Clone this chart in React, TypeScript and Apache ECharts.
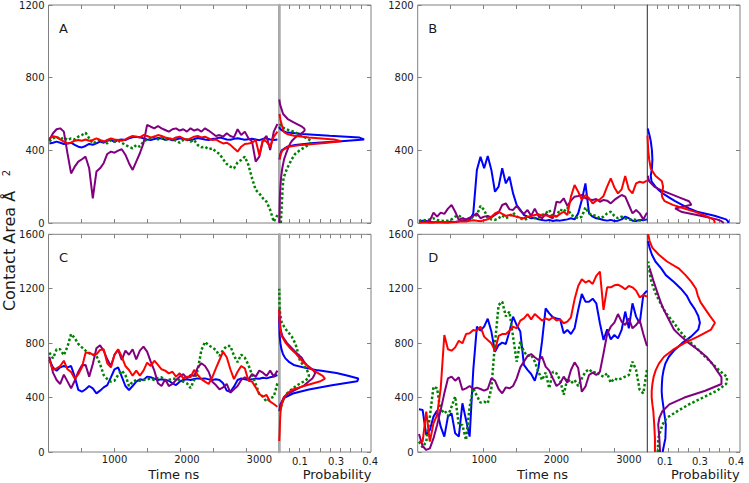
import React, { useEffect, useRef } from "react";
import * as echarts from "echarts";

// ---------- data ----------
const TIME = [
  100, 150, 200, 250, 300, 350, 400, 450,
  500, 550, 600, 650, 700, 750, 800, 850,
  900, 950, 1000, 1050, 1100, 1150, 1200, 1250,
  1300, 1350, 1400, 1450, 1500, 1550, 1600, 1650,
  1700, 1750, 1800, 1850, 1900, 1950, 2000, 2050,
  2100, 2150, 2200, 2250, 2300, 2350, 2400, 2450,
  2500, 2550, 2600, 2650, 2700, 2750, 2800, 2850,
  2900, 2950, 3000, 3050, 3100, 3150, 3200, 3250,
];
const TIME_TICK_LABELS = [1000, 2000, 3000];
const PROB_TICK_LABELS = ["0.1", "0.3", "0.4"];

// Panel A
const A_BLUE = [438,442,448,442,435,438,442,430, 420,416,424,435,431,438,448,442, 453,457,446,457,460,457,466,472, 475,472,466,460,457,462,468,465, 458,462,455,460,466,463,458,455, 462,468,464,460,457,462,465,470, 466,460,458,463,467,462,458,461, 464,460,456,462,466,460,457,460];
const A_RED = [466,477,473,460,448,438,442,453, 457,453,460,453,457,466,457,448, 457,466,460,457,453,460,471,479, 475,471,484,479,471,475,484,479, 471,466,460,471,475,466,457,466, 475,479,471,475,466,457,460,448, 438,442,430,411,393,420,435,438, 442,457,374,457,448,420,475,503];
const A_PURPLE = [457,494,516,521,503,384,273,310, 338,351,365,301,136,283,301,329, 380,393,387,398,406,376,329,292, 338,384,438,540,530,521,534,521, 512,503,516,521,509,516,503,521, 509,516,503,521,509,494,479,484, 475,494,479,471,516,484,503,466, 448,338,365,457,479,402,503,545];
const A_GREEN = [448,466,475,460,471,457,466,460, 475,484,497,466,438,448,460,448, 438,457,448,453,442,429,420,411, 429,420,448,460,466,475,460,471, 457,466,460,453,442,457,460,448, 457,429,417,420,406,411,393,380, 351,325,310,301,334,347,365,319, 246,182,163,136,117,72,7,44];

// Panel B
const B_BLUE = [7,13,11,5,4,4,5,4, 5,7,5,9,13,11,17,53, 292,365,301,369,292,172,200,301, 218,255,163,99,72,44,35,26, 29,20,17,13,17,11,15,13, 17,20,26,20,53,127,218,53, 35,26,22,17,13,17,11,13, 20,35,26,13,11,17,15,20];
const B_RED = [4,3,3,2,3,5,4,3, 2,4,6,8,10,8,12,15, 12,10,15,20,35,53,62,50, 39,44,40,35,29,26,35,39, 44,48,40,42,39,40,35,50, 62,44,145,209,172,127,154,136, 108,123,130,149,200,246,196,163, 185,259,185,163,218,227,222,233];
const B_PURPLE = [5,5,7,13,57,35,57,50, 79,99,62,17,26,20,29,39, 53,26,35,39,31,44,57,99, 108,75,72,94,68,50,72,39, 79,39,26,50,35,26,117,112, 136,94,123,145,149,154,136,130, 127,132,117,127,123,108,127,141, 154,145,99,53,72,53,20,57];
const B_GREEN = [11,17,13,20,26,17,13,11, 13,20,35,42,26,17,20,35, 44,94,72,26,20,17,26,42, 26,35,57,35,26,17,26,35, 26,29,44,53,72,35,39,75, 62,86,44,35,26,35,86,53, 44,39,26,35,53,62,39,26, 35,26,17,20,17,13,20,26];

// Panel C
const C_BLUE = [676,622,598,622,632,622,632,554, 456,443,461,485,468,431,451,475, 492,549,608,622,554,485,456,485, 517,534,529,554,549,539,529,534, 529,524,505,492,517,529,534,529, 536,541,539,541,534,529,534,529, 505,451,443,480,529,541,534,529, 534,541,539,546,541,549,554,566];
const C_RED = [676,603,615,632,671,608,588,541, 571,622,730,730,715,718,750,755, 652,622,715,755,701,632,603,561, 598,561,598,657,632,671,640,608, 598,578,590,554,578,541,554,549, 603,566,536,517,500,549,615,676, 737,696,608,536,590,632,615,524, 517,475,426,407,419,370,353,333];
const C_PURPLE = [700,583,529,500,568,519,468,524, 590,637,640,554,647,762,784,745, 681,632,715,750,676,745,715,755, 681,745,774,738,664,598,505,485, 534,485,500,529,554,573,541,566, 559,622,652,632,590,517,492,461, 475,500,436,461,485,529,549,534, 573,554,598,583,559,598,554,598];
const C_GREEN = [730,688,755,755,711,774,867,838, 794,769,745,725,716,708,647,566, 536,517,524,566,598,566,485,517, 529,524,529,534,541,529,544,549, 524,529,539,539,529,517,505,470, 529,603,750,809,784,769,750,706, 750,779,779,708,660,716,693,640, 566,500,426,407,370,394,407,505];

// Panel D
const D_BLUE = [314,309,125,162,260,304,186,113, 260,284,137,113,358,235,113,603, 921,892,921,980,885,737,786,804, 794,885,995,933,885,640,603,573, 524,615,811,1056,1019,990,982,975, 872,897,867,909,1044,1161,1105,1105, 1127,1093,946,823,902,828,860,835, 897,1032,909,1093,995,946,1154,1186];
const D_RED = [76,76,296,76,211,272,468,860, 755,745,769,818,799,867,872,897, 892,921,848,823,799,745,853,867, 867,892,921,909,966,982,1014,975, 1014,990,966,982,970,990,966,975, 946,958,990,1122,1220,1269,1245,1259, 1235,1294,1325,1044,1210,1210,1225,1230, 1215,1196,1220,1210,1186,1137,1154,1142];
const D_PURPLE = [132,44,15,27,100,198,309,431, 541,554,524,549,456,468,485,463, 473,463,451,463,541,524,463,431, 475,468,485,541,622,664,706,720, 696,676,701,627,598,541,485,505, 554,510,603,659,617,443,480,566, 583,566,590,725,867,921,951,1014, 958,933,982,909,933,970,867,779];
const D_GREEN = [76,34,76,260,480,468,289,309, 265,333,407,198,198,88,333,468, 412,363,370,358,468,799,1080,1105, 997,1031,848,664,811,737,706,713, 664,590,529,583,468,590,578,529, 421,541,505,529,485,541,590,608, 583,590,566,554,578,510,541,529, 541,554,566,664,603,456,431,603];

// Probability densities (contact area grid + density per run)
const DA_Y = [0,50,100,150,200,250,300,350,380,400,420,430,440,450,460,470,480,490,500,510,520,530,550,570,600,650,680];
const DA_BLUE = [null,null,null,null,null,null,null,0.002,0.006,0.012,0.035,0.07,0.15,0.27,0.37,0.35,0.22,0.1,0.03,0.012,0.004,0.001,null,null,null,null,null];
const DA_RED = [null,null,null,null,null,null,null,0.003,0.008,0.015,0.04,0.1,0.2,0.27,0.24,0.13,0.065,0.035,0.022,0.018,0.016,0.014,0.01,0.006,0.002,null,null];
const DA_PURPLE = [0.001,0.002,0.003,0.004,0.006,0.009,0.014,0.022,0.03,0.036,0.042,0.046,0.05,0.055,0.062,0.07,0.08,0.093,0.105,0.112,0.11,0.1,0.07,0.04,0.018,0.005,0.001];
const DA_GREEN = [0.008,0.01,0.012,0.014,0.016,0.02,0.035,0.055,0.07,0.09,0.115,0.128,0.138,0.14,0.13,0.115,0.1,0.085,0.07,0.045,0.025,0.012,0.003,null,null,null,null];

const DB_Y = [0,10,20,40,60,80,100,120,140,160,180,200,230,260,300,350,400,450,480,520];
const DB_BLUE = [0.35,0.348,0.34,0.29,0.22,0.18,0.15,0.12,0.095,0.07,0.05,0.035,0.018,0.015,0.02,0.022,0.02,0.015,0.01,0.002];
const DB_RED = [0.29,0.29,0.285,0.25,0.21,0.16,0.11,0.075,0.065,0.062,0.066,0.068,0.063,0.035,0.015,0.008,0.004,0.002,0.001,null];
const DB_PURPLE = [0.33,0.32,0.3,0.23,0.15,0.12,0.19,0.18,0.14,0.1,0.06,0.03,0.008,0.002,null,null,null,null,null,null];
const DB_GREEN = [null,null,null,null,null,null,null,null,null,null,null,null,null,null,null,null,null,null,null,null];

const DC_Y = [80,150,200,250,300,350,400,430,460,490,520,540,560,580,600,620,640,660,690,720,760,800,850,900,950,1000,1050,1100,1200];
const DC_BLUE = [null,null,null,null,0.002,0.006,0.025,0.06,0.13,0.23,0.34,0.345,0.3,0.25,0.17,0.11,0.064,0.045,0.027,0.017,0.01,0.006,0.003,0.002,0.001,0.001,null,null,null];
const DC_RED = [0.001,0.003,0.004,0.005,0.007,0.012,0.022,0.035,0.06,0.12,0.18,0.2,0.19,0.17,0.15,0.13,0.12,0.105,0.09,0.075,0.05,0.03,0.012,0.006,0.003,0.002,0.001,null,null];
const DC_PURPLE = [null,null,null,null,0.003,0.008,0.02,0.04,0.075,0.11,0.13,0.145,0.152,0.157,0.15,0.135,0.12,0.11,0.1,0.08,0.058,0.035,0.015,0.007,0.004,0.002,0.001,null,null];
const DC_GREEN = [null,null,null,null,0.003,0.012,0.022,0.035,0.055,0.078,0.11,0.125,0.13,0.128,0.122,0.115,0.105,0.095,0.087,0.083,0.078,0.07,0.055,0.03,0.012,0.006,0.003,0.002,0.001];

const DD_Y = [0,100,200,250,300,350,400,450,500,550,600,650,700,750,800,850,900,950,1000,1050,1100,1150,1200,1250,1300,1350,1400,1450,1500,1550,1600];
const DD_BLUE = [0.066,0.078,0.08,0.076,0.072,0.068,0.064,0.062,0.063,0.065,0.07,0.078,0.093,0.118,0.15,0.19,0.22,0.227,0.22,0.205,0.185,0.17,0.145,0.115,0.08,0.06,0.035,0.02,0.01,0.003,null];
const DD_RED = [0.033,0.033,0.03,0.028,0.026,0.022,0.019,0.019,0.022,0.027,0.036,0.05,0.072,0.11,0.16,0.22,0.275,0.292,0.27,0.25,0.23,0.218,0.21,0.19,0.165,0.135,0.085,0.05,0.022,0.01,0.004];
const DD_PURPLE = [0.055,0.052,0.047,0.052,0.065,0.095,0.16,0.25,0.32,0.32,0.3,0.28,0.255,0.22,0.18,0.145,0.115,0.1,0.085,0.07,0.058,0.048,0.038,0.028,0.019,0.01,null,null,null,null,null];
const DD_GREEN = [0.045,0.047,0.065,0.083,0.13,0.18,0.24,0.3,0.34,0.345,0.31,0.28,0.25,0.22,0.19,0.16,0.135,0.115,0.09,0.07,0.055,0.04,0.028,0.018,0.012,0.008,0.004,null,null,null,null];

// ---------- styling / layout ----------
const FONT = "DejaVu Sans";
const FRAME = "#808080";
const TEXT = "#1a1a1a";
// order: blue, green, purple, red
const COLORS = ["#0000ff", "#008000", "#800080", "#ff0000"];

const PANELS = [
  { letter: "A", ymax: 1200, ts: [A_BLUE, A_GREEN, A_PURPLE, A_RED], dy: DA_Y, dens: [DA_BLUE, DA_GREEN, DA_PURPLE, DA_RED],
    left: 48.5, div: 279, right: 371, top: 5, height: 218, tmin: 88, tmax: 3272, bottom: false, divColor: "#ababab", divWidth: 2.5, anchors: [0.091, 0.248, 0.396] },
  { letter: "B", ymax: 1200, ts: [B_BLUE, B_GREEN, B_PURPLE, B_RED], dy: DB_Y, dens: [DB_BLUE, DB_GREEN, DB_PURPLE, DB_RED],
    left: 417.7, div: 647.3, right: 740, top: 5, height: 218, tmin: 82, tmax: 3255, bottom: false, divColor: "#555555", divWidth: 1, anchors: [0.076, 0.227, 0.383] },
  { letter: "C", ymax: 1600, ts: [C_BLUE, C_GREEN, C_PURPLE, C_RED], dy: DC_Y, dens: [DC_BLUE, DC_GREEN, DC_PURPLE, DC_RED],
    left: 48.5, div: 279, right: 371, top: 234.3, height: 217.7, tmin: 88, tmax: 3272, bottom: true, divColor: "#ababab", divWidth: 2.5, anchors: [0.091, 0.248, 0.396] },
  { letter: "D", ymax: 1600, ts: [D_BLUE, D_GREEN, D_PURPLE, D_RED], dy: DD_Y, dens: [DD_BLUE, DD_GREEN, DD_PURPLE, DD_RED],
    left: 417.7, div: 647.3, right: 740, top: 234.3, height: 217.7, tmin: 82, tmax: 3255, bottom: true, divColor: "#555555", divWidth: 1, anchors: [0.076, 0.227, 0.383] },
];

function lineStyleFor(ci: number) {
  if (ci === 1) return { color: COLORS[ci], width: 2.5, type: [2.5, 2.2] as any };
  return { color: COLORS[ci], width: 2, type: "solid" as any };
}

const plain = (v: number) => String(Math.round(v));

function buildOption() {
  const grid: any[] = [];
  const xAxis: any[] = [];
  const yAxis: any[] = [];
  const series: any[] = [];
  const graphic: any[] = [];
  const tick = { show: true, inside: true, length: 4, lineStyle: { color: FRAME, width: 1 } };
  const label = { fontSize: 10, fontFamily: FONT, color: TEXT };

  PANELS.forEach((P, p) => {
    grid.push({ left: P.left, top: P.top, width: P.div - P.left, height: P.height, show: true, borderColor: FRAME, borderWidth: 1, backgroundColor: "transparent" });
    grid.push({ left: P.div, top: P.top, width: P.right - P.div, height: P.height, show: true, borderColor: FRAME, borderWidth: 1, backgroundColor: "transparent" });

    const tTicks = [1, 2, 3, 4, 5, 6].map((k) => P.tmin + (k * (P.tmax - P.tmin)) / 7);
    const pTicks = [1, 2, 3, 4, 5, 6, 7, 8].map((k) => (k * 0.4) / 9);

    xAxis.push({
      gridIndex: 2 * p, type: "value", position: "bottom", min: P.tmin, max: P.tmax,
      axisLine: { show: false, onZero: false }, splitLine: { show: false },
      axisTick: { ...tick, customValues: tTicks },
      axisLabel: { show: P.bottom, customValues: TIME_TICK_LABELS, margin: 2, formatter: plain, ...label },
    });
    xAxis.push({
      gridIndex: 2 * p, type: "value", position: "top", min: P.tmin, max: P.tmax,
      axisLine: { show: false, onZero: false }, splitLine: { show: false },
      axisTick: { ...tick, customValues: tTicks }, axisLabel: { show: false },
    });
    const anchors = P.anchors;
    xAxis.push({
      gridIndex: 2 * p + 1, type: "value", position: "bottom", min: 0, max: 0.4,
      axisLine: { show: false, onZero: false }, splitLine: { show: false },
      axisTick: { ...tick, customValues: pTicks },
      axisLabel: {
        show: P.bottom, customValues: anchors, margin: 4, ...label,
        formatter: (v: number) => {
          let best = 0;
          anchors.forEach((a, i) => { if (Math.abs(a - v) < Math.abs(anchors[best] - v)) best = i; });
          return PROB_TICK_LABELS[best];
        },
      },
    });
    xAxis.push({
      gridIndex: 2 * p + 1, type: "value", position: "top", min: 0, max: 0.4,
      axisLine: { show: false, onZero: false }, splitLine: { show: false },
      axisTick: { ...tick, customValues: pTicks }, axisLabel: { show: false },
    });

    yAxis.push({
      gridIndex: 2 * p, type: "value", position: "left", min: 0, max: P.ymax, interval: 400,
      axisLine: { show: false, onZero: false }, splitLine: { show: false },
      axisTick: tick, axisLabel: { margin: 4, formatter: plain, ...label },
    });
    yAxis.push({
      gridIndex: 2 * p + 1, type: "value", position: "left", min: 0, max: P.ymax, interval: 400,
      axisLine: { show: true, onZero: false, lineStyle: { color: P.divColor, width: P.divWidth } },
      splitLine: { show: false }, axisTick: { show: false }, axisLabel: { show: false },
    });
    yAxis.push({
      gridIndex: 2 * p + 1, type: "value", position: "right", min: 0, max: P.ymax, interval: 400,
      axisLine: { show: false, onZero: false }, splitLine: { show: false },
      axisTick: tick, axisLabel: { show: false },
    });

    P.ts.forEach((arr, ci) => {
      series.push({
        type: "line", xAxisIndex: 4 * p, yAxisIndex: 3 * p,
        data: TIME.map((t, i) => [t, arr[i]]),
        symbol: "none", showSymbol: false, silent: true, clip: true,
        lineStyle: lineStyleFor(ci), itemStyle: { color: COLORS[ci] },
      });
    });
    P.dens.forEach((arr, ci) => {
      const data = P.dy.map((y, i) => [arr[i], y]).filter((d) => d[0] !== null && d[0] !== undefined);
      if (!data.length) return;
      series.push({
        type: "line", xAxisIndex: 4 * p + 2, yAxisIndex: 3 * p + 1,
        data, symbol: "none", showSymbol: false, silent: true, clip: true,
        lineStyle: lineStyleFor(ci), itemStyle: { color: COLORS[ci] },
      });
    });

    graphic.push({
      type: "text", x: P.left + 10.5, y: P.top + 23,
      style: { text: P.letter, fontSize: 13, fontFamily: FONT, fill: TEXT, textAlign: "left", textVerticalAlign: "middle" },
    });
    if (P.bottom) {
      graphic.push({
        type: "text", x: (P.left + P.div) / 2 + 10, y: 474,
        style: { text: "Time ns", fontSize: 13, fontFamily: FONT, fill: TEXT, textAlign: "center", textVerticalAlign: "middle" },
      });
      graphic.push({
        type: "text", x: P.div + 58, y: 474,
        style: { text: "Probability", fontSize: 13, fontFamily: FONT, fill: TEXT, textAlign: "center", textVerticalAlign: "middle" },
      });
    }
  });

  graphic.push({
    type: "text", x: 9, y: 251, rotation: Math.PI / 2,
    style: { text: "Contact Area \u00C5", fontSize: 16, fontFamily: FONT, fill: TEXT, textAlign: "center", textVerticalAlign: "middle" },
  });
  graphic.push({
    type: "text", x: 6, y: 173, rotation: Math.PI / 2,
    style: { text: "2", fontSize: 10, fontFamily: FONT, fill: TEXT, textAlign: "center", textVerticalAlign: "middle" },
  });

  return { animation: false, backgroundColor: "#ffffff", grid, xAxis, yAxis, series, graphic };
}

export default function App() {
  const ref = useRef<HTMLDivElement>(null);
  useEffect(() => {
    if (!ref.current) return;
    const chart = echarts.init(ref.current, null, { renderer: "svg" });
    chart.setOption(buildOption() as any);
    return () => chart.dispose();
  }, []);
  return (
    <div
      ref={ref}
      style={{ position: "absolute", left: 0, top: 0, width: 749, height: 483 }}
    />
  );
}
